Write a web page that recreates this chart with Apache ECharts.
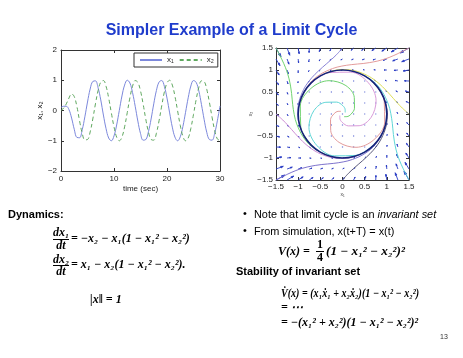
<!DOCTYPE html>
<html><head><meta charset="utf-8">
<script src="https://cdn.jsdelivr.net/npm/echarts@6.0.0/dist/echarts.min.js"></script>
<style>html,body{margin:0;padding:0;background:#fff}#c{width:463px;height:358px}</style>
</head><body><div id="c"></div>
<script>
// ---- time series (left plot) ----
const timeSec = [0,0.5,1,1.5,2,2.5,3,3.5,4,4.5,5,5.5,6,6.5,7,7.5,8,8.5,9,9.5,10,10.5,11,11.5,12,12.5,13,13.5,14,14.5,15,15.5,16,16.5,17,17.5,18,18.5,19,19.5,20,20.5,21,21.5,22,22.5,23,23.5,24,24.5,25,25.5,26,26.5,27,27.5,28,28.5,29,29.5,30];
const x1Vals = [0.10,0.14,0.14,0.03,-0.25,-0.62,-0.89,-0.90,-0.64,-0.21,0.28,0.71,0.96,0.98,0.75,0.35,-0.15,-0.60,-0.91,-1.00,-0.84,-0.48,0.00,0.48,0.84,1.00,0.91,0.59,0.14,-0.35,-0.76,-0.98,-0.96,-0.70,-0.28,0.22,0.66,0.94,0.99,0.80,0.41,-0.08,-0.55,-0.88,-1.00,-0.87,-0.53,-0.06,0.42,0.81,0.99,0.93,0.65,0.20,-0.29,-0.72,-0.96,-0.98,-0.75,-0.34,0.15];
const x2Vals = [0.00,0.08,0.22,0.41,0.55,0.46,0.13,-0.34,-0.75,-0.97,-0.96,-0.71,-0.28,0.22,0.66,0.94,0.99,0.80,0.41,-0.08,-0.54,-0.88,-1.00,-0.88,-0.54,-0.07,0.42,0.80,0.99,0.93,0.65,0.21,-0.29,-0.71,-0.96,-0.98,-0.75,-0.34,0.15,0.61,0.91,1.00,0.84,0.47,-0.01,-0.49,-0.85,-1.00,-0.91,-0.59,-0.13,0.36,0.76,0.98,0.96,0.70,0.27,-0.22,-0.66,-0.94,-0.99];
const seriesNames = ['x₁','x₂'];
const leftXTicks = [0,10,20,30];
const leftYTicks = [-2,-1,0,1,2];
const phaseTicks = [-1.5,-1,-0.5,0,0.5,1,1.5];

// ---- vector field (right plot) ----
const fieldX = [-1.5,-1.25,-1,-0.75,-0.5,-0.25,0,0.25,0.5,0.75,1,1.25,1.5];
const fieldY = [1.5,1.25,1,0.75,0.5,0.25,0,-0.25,-0.5,-0.75,-1,-1.25,-1.5];
const fieldU = [
 [3.75,2.02,0.75,-0.14,-0.75,-1.17,-1.5,-1.83,-2.25,-2.86,-3.75,-5.02,-6.75],
 [2.97,1.41,0.31,-0.41,-0.84,-1.09,-1.25,-1.41,-1.66,-2.09,-2.81,-3.91,-5.47],
 [2.38,0.95,0,-0.58,-0.88,-0.98,-1,-1.02,-1.13,-1.42,-2,-2.95,-4.38],
 [1.97,0.66,-0.19,-0.66,-0.84,-0.84,-0.75,-0.66,-0.66,-0.84,-1.31,-2.16,-3.47],
 [1.75,0.52,-0.25,-0.64,-0.75,-0.67,-0.5,-0.33,-0.25,-0.36,-0.75,-1.52,-2.75],
 [1.72,0.53,-0.19,-0.53,-0.59,-0.47,-0.25,-0.03,0.09,0.03,-0.31,-1.03,-2.22],
 [1.88,0.70,0,-0.33,-0.38,-0.23,0,0.23,0.38,0.33,0,-0.70,-1.88],
 [2.22,1.03,0.31,-0.03,-0.09,0.03,0.25,0.47,0.59,0.53,0.19,-0.53,-1.72],
 [2.75,1.52,0.75,0.36,0.25,0.33,0.5,0.67,0.75,0.64,0.25,-0.52,-1.75],
 [3.47,2.16,1.31,0.84,0.66,0.66,0.75,0.84,0.84,0.66,0.19,-0.66,-1.97],
 [4.38,2.95,2,1.42,1.13,1.02,1,0.98,0.88,0.58,0,-0.95,-2.38],
 [5.47,3.91,2.81,2.09,1.66,1.41,1.25,1.09,0.84,0.41,-0.31,-1.41,-2.97],
 [6.75,5.02,3.75,2.86,2.25,1.83,1.5,1.17,0.75,0.14,-0.75,-2.02,-3.75]
];
const fieldV = [
 [-6.75,-5.47,-4.38,-3.47,-2.75,-2.22,-1.88,-1.72,-1.75,-1.97,-2.38,-2.97,-3.75],
 [-5.02,-3.91,-2.95,-2.16,-1.52,-1.03,-0.70,-0.53,-0.52,-0.66,-0.95,-1.41,-2.02],
 [-3.75,-2.81,-2,-1.31,-0.75,-0.31,0,0.19,0.25,0.19,0,-0.31,-0.75],
 [-2.86,-2.09,-1.42,-0.84,-0.36,0.03,0.33,0.53,0.64,0.66,0.58,0.41,0.14],
 [-2.25,-1.66,-1.13,-0.66,-0.25,0.09,0.38,0.59,0.75,0.84,0.88,0.84,0.75],
 [-1.83,-1.41,-1.02,-0.66,-0.33,-0.03,0.23,0.47,0.67,0.84,0.98,1.09,1.17],
 [-1.5,-1.25,-1,-0.75,-0.5,-0.25,0,0.25,0.5,0.75,1,1.25,1.5],
 [-1.17,-1.09,-0.98,-0.84,-0.67,-0.47,-0.23,0.03,0.33,0.66,1.02,1.41,1.83],
 [-0.75,-0.84,-0.88,-0.84,-0.75,-0.59,-0.38,-0.09,0.25,0.66,1.13,1.66,2.25],
 [-0.14,-0.41,-0.58,-0.66,-0.64,-0.53,-0.33,-0.03,0.36,0.84,1.42,2.09,2.86],
 [0.75,0.31,0,-0.19,-0.25,-0.19,0,0.31,0.75,1.31,2,2.81,3.75],
 [2.02,1.41,0.95,0.66,0.52,0.53,0.70,1.03,1.52,2.16,2.95,3.91,5.02],
 [3.75,2.97,2.38,1.97,1.75,1.72,1.88,2.22,2.75,3.47,4.38,5.47,6.75]
];

// ---- trajectories (right plot) ----
const limitCycle = [[1,0],[0.966,0.259],[0.866,0.5],[0.707,0.707],[0.5,0.866],[0.259,0.966],[0,1],[-0.259,0.966],[-0.5,0.866],[-0.707,0.707],[-0.866,0.5],[-0.966,0.259],[-1,0],[-0.966,-0.259],[-0.866,-0.5],[-0.707,-0.707],[-0.5,-0.866],[-0.259,-0.966],[0,-1],[0.259,-0.966],[0.5,-0.866],[0.707,-0.707],[0.866,-0.5],[0.966,-0.259],[1,0]];
const spiralGreen = [[0.035,-0.061],[0.098,-0.060],[0.187,-0.009],[0.270,0.131],[0.266,0.375],[0.077,0.645],[-0.304,0.757],[-0.709,0.584],[-0.951,0.181],[-0.941,-0.302],[-0.685,-0.722]];
const spiralCyan = [[0.061,0.035],[0.060,0.098],[0.009,0.187],[-0.131,0.270],[-0.375,0.266],[-0.645,0.077],[-0.757,-0.304],[-0.584,-0.709],[-0.181,-0.951],[0.302,-0.941],[0.722,-0.685]];
const spiralRed = [[-0.035,0.061],[-0.098,0.060],[-0.187,0.009],[-0.270,-0.131],[-0.266,-0.375],[-0.077,-0.645],[0.304,-0.757],[0.709,-0.584],[0.951,-0.181],[0.941,0.302],[0.685,0.722]];
const spiralMagenta = [[-0.061,-0.035],[-0.060,-0.098],[-0.009,-0.187],[0.131,-0.270],[0.375,-0.266],[0.645,-0.077],[0.757,0.304],[0.584,0.709],[0.181,0.951],[-0.302,0.941],[-0.722,0.685]];
const outerRed = [[1.5,1.5],[1.232,1.364],[1.051,1.285],[0.911,1.236],[0.798,1.205],[0.616,1.169],[0.466,1.148],[0.210,1.123],[-0.015,1.089],[-0.225,1.033],[-0.507,0.897],[-0.739,0.697],[-0.944,0.351]];
const outerGreen = [[-1.5,1.5],[-1.364,1.232],[-1.285,1.051],[-1.236,0.911],[-1.205,0.798],[-1.169,0.616],[-1.148,0.466],[-1.123,0.210],[-1.089,-0.015],[-1.033,-0.225],[-0.897,-0.507],[-0.697,-0.739],[-0.351,-0.944]];
const outerPurple = [[-1.5,-1.5],[-1.232,-1.364],[-1.051,-1.285],[-0.911,-1.236],[-0.798,-1.205],[-0.616,-1.169],[-0.466,-1.148],[-0.210,-1.123],[0.015,-1.089],[0.225,-1.033],[0.507,-0.897],[0.739,-0.697],[0.944,-0.351]];
const outerCyan = [[1.5,-1.5],[1.364,-1.232],[1.285,-1.051],[1.236,-0.911],[1.205,-0.798],[1.169,-0.616],[1.148,-0.466],[1.123,-0.210],[1.089,0.015],[1.033,0.225],[0.897,0.507],[0.697,0.739],[0.351,0.944]];
const outerYellow = [[1.5,0],[1.348,0.135],[1.237,0.252],[1.146,0.355],[1.064,0.449],[0.904,0.619],[0.740,0.761],[0.562,0.875],[0.273,0.984],[-0.030,1.012],[-0.418,0.914]];
const outerSlate = [[0,1.5],[-0.135,1.348],[-0.252,1.237],[-0.355,1.146],[-0.449,1.064],[-0.619,0.904],[-0.761,0.740],[-0.875,0.562],[-0.984,0.273],[-1.012,-0.030],[-0.914,-0.418]];
const outerMagenta = [[-1.5,0],[-1.348,-0.135],[-1.237,-0.252],[-1.146,-0.355],[-1.064,-0.449],[-0.904,-0.619],[-0.740,-0.761],[-0.562,-0.875],[-0.273,-0.984],[0.030,-1.012],[0.418,-0.914]];
const outerGray = [[0,-1.5],[0.135,-1.348],[0.252,-1.237],[0.355,-1.146],[0.449,-1.064],[0.619,-0.904],[0.761,-0.740],[0.875,-0.562],[0.984,-0.273],[1.012,0.030],[0.914,0.418]];

// ---------- build ----------
const minus = v => (v < 0 ? '\u2212' + Math.abs(v) : String(v));
const sans = '"Liberation Sans", Arial, sans-serif';
const tickFont = {fontSize: 8, color: '#222', fontFamily: sans};

const arrowData = [];
fieldY.forEach((y, i) => fieldX.forEach((x, j) => arrowData.push([x, y, fieldU[i][j], fieldV[i][j]])));
const arrowScale = 0.03;
const arrowColor = '#2a3cc4';

function renderArrow(params, api) {
  const x = api.value(0), y = api.value(1), u = api.value(2), v = api.value(3);
  const p0 = api.coord([x, y]);
  const p1 = api.coord([x + u * arrowScale, y + v * arrowScale]);
  const dx = p1[0] - p0[0], dy = p1[1] - p0[1];
  const L = Math.sqrt(dx * dx + dy * dy);
  if (L < 1.3) {
    return {type: 'rect', shape: {x: p0[0] - 0.6, y: p0[1] - 0.6, width: 1.2, height: 1.2}, style: {fill: arrowColor, opacity: 0.7}};
  }
  const a = 0.33, b = 0.33;
  const h1 = [p1[0] - a * (dx + b * dy), p1[1] - a * (dy - b * dx)];
  const h2 = [p1[0] - a * (dx - b * dy), p1[1] - a * (dy + b * dx)];
  return {type: 'group', children: [
    {type: 'polyline', shape: {points: [p0, p1]}, style: {stroke: arrowColor, lineWidth: 0.9, fill: null}},
    {type: 'polygon', shape: {points: [h1, p1, h2]}, style: {stroke: arrowColor, lineWidth: 0.8, fill: arrowColor}}
  ]};
}

const s1 = timeSec.map((t, i) => [t, x1Vals[i]]);
const s2 = timeSec.map((t, i) => [t, x2Vals[i]]);

function axisBase(extra) {
  return Object.assign({
    type: 'value', splitLine: {show: false},
    axisLine: {show: true, onZero: false, lineStyle: {color: '#333', width: 1}},
    axisTick: {show: true, inside: true, length: 3, lineStyle: {color: '#333'}},
    axisLabel: Object.assign({margin: 4}, tickFont)
  }, extra);
}
function mirror(extra) {
  return Object.assign(axisBase(extra), {axisLabel: {show: false}, name: ''});
}

const traj = (data, color, w, z) => ({
  type: 'line', xAxisIndex: 2, yAxisIndex: 2, data: data, showSymbol: false, symbol: 'none',
  smooth: 0.35, lineStyle: {color: color, width: w || 1}, z: z || 3, silent: true
});

const eqSize = 12;
const eqFont = 'bold ' + eqSize + 'px "Liberation Serif", "DejaVu Serif", serif';
const eqFontI = 'italic bold ' + eqSize + 'px "Liberation Serif", "DejaVu Serif", serif';
function T(text, x, y, font, extra, tr) {
  return Object.assign({type: 'text', x: 0, y: 0, style: Object.assign({text: text, x: x, y: y, font: font, fill: '#000', textAlign: 'left', textVerticalAlign: 'middle'}, extra || {})}, tr || {});
}
function TS(text, x, y, font, sx) {
  // text with horizontal scale about its left anchor
  return {type: 'text', x: x, y: y, scaleX: sx, style: {text: text, x: 0, y: 0, font: font, fill: '#000', textAlign: 'left', textVerticalAlign: 'middle'}};
}
function line(x1, y1, x2, y2) {
  return {type: 'line', shape: {x1: x1, y1: y1, x2: x2, y2: y2}, style: {stroke: '#000', lineWidth: 1}};
}

const chart = echarts.init(document.getElementById('c'), null, {renderer: 'canvas'});
chart.setOption({
  animation: false,
  backgroundColor: '#fff',
  grid: [
    {left: 61, top: 50, width: 159, height: 121, show: false},
    {left: 276, top: 48, width: 133, height: 132, show: false}
  ],
  legend: {
    data: seriesNames, left: 134, top: 53, itemWidth: 22, itemHeight: 10, itemGap: 5,
    padding: [3, 4, 3, 5], borderColor: '#333', borderWidth: 1, backgroundColor: '#fff',
    itemStyle: {opacity: 0, borderWidth: 0},
    textStyle: {fontSize: 8, color: '#222', fontFamily: sans}
  },
  xAxis: [
    axisBase({gridIndex: 0, min: 0, max: 30, interval: 10, name: 'time (sec)', nameLocation: 'middle', nameGap: 14,
      nameTextStyle: {fontSize: 8, color: '#222', fontFamily: sans}, axisLabel: Object.assign({margin: 4, formatter: minus}, tickFont)}),
    mirror({gridIndex: 0, min: 0, max: 30, interval: 10, position: 'top'}),
    axisBase({gridIndex: 1, min: -1.5, max: 1.5, interval: 0.5, name: 'x₁', nameLocation: 'middle', nameGap: 11,
      nameTextStyle: {fontSize: 5, color: '#444', fontFamily: sans}, axisLabel: Object.assign({margin: 3, formatter: minus}, tickFont)}),
    mirror({gridIndex: 1, min: -1.5, max: 1.5, interval: 0.5, position: 'top'})
  ],
  yAxis: [
    axisBase({gridIndex: 0, min: -2, max: 2, interval: 1, name: 'x₁, x₂', nameLocation: 'middle', nameGap: 16,
      nameTextStyle: {fontSize: 8, color: '#222', fontFamily: sans}, axisLabel: Object.assign({margin: 4, formatter: minus}, tickFont)}),
    mirror({gridIndex: 0, min: -2, max: 2, interval: 1, position: 'right'}),
    axisBase({gridIndex: 1, min: -1.5, max: 1.5, interval: 0.5, name: 'x₂', nameLocation: 'middle', nameGap: 19,
      nameTextStyle: {fontSize: 5, color: '#444', fontFamily: sans}, axisLabel: Object.assign({margin: 3, formatter: minus}, tickFont)}),
    mirror({gridIndex: 1, min: -1.5, max: 1.5, interval: 0.5, position: 'right'})
  ],
  series: [
    {name: seriesNames[0], type: 'line', xAxisIndex: 0, yAxisIndex: 0, data: s1, showSymbol: false, symbol: 'none', smooth: 0.4,
      lineStyle: {color: '#7c88dc', width: 1}, itemStyle: {color: '#7c88dc'}},
    {name: seriesNames[1], type: 'line', xAxisIndex: 0, yAxisIndex: 0, data: s2, showSymbol: false, symbol: 'none', smooth: 0.4,
      lineStyle: {color: '#5fa85f', width: 1, type: [4, 3]}, itemStyle: {color: '#5fa85f'}},
    {type: 'custom', xAxisIndex: 2, yAxisIndex: 2, data: arrowData, renderItem: renderArrow, encode: {x: 0, y: 1}, z: 2, silent: true, clip: false},
    traj(outerRed, '#e39b9b'), traj(outerGreen, '#6fd26f'), traj(outerPurple, '#7d72cc'), traj(outerCyan, '#5fd6d6'),
    traj(outerYellow, '#dede5a'), traj(outerSlate, '#8b84d6'), traj(outerMagenta, '#cf8fd6'), traj(outerGray, '#5a5a7a'),
    traj(spiralGreen, '#6fd26f'), traj(spiralCyan, '#5fd6d6'), traj(spiralRed, '#e39b9b'), traj(spiralMagenta, '#d99ad9'),
    traj(limitCycle, '#16237a', 1.6, 5)
  ],
  graphic: [
    T('Simpler Example of a Limit Cycle', 231.5, 31, 'bold 16px ' + sans, {fill: '#1f3ccc', textAlign: 'center'}),
    T('Dynamics:', 8, 215, 'bold 11px ' + sans),
    T('dx₁', 61, 233, eqFontI, {textAlign: 'center'}), line(53, 239.5, 69, 239.5), T('dt', 61, 245.5, eqFontI, {textAlign: 'center'}),
    TS('= −x₂ − x₁(1 − x₁² − x₂²)', 71, 239, eqFontI, 1.0),
    T('dx₂', 61, 259.5, eqFontI, {textAlign: 'center'}), line(53, 265.5, 69, 265.5), T('dt', 61, 271.5, eqFontI, {textAlign: 'center'}),
    TS('= x₁ − x₂(1 − x₁² − x₂²).', 71, 265, eqFontI, 1.0),
    T('|x‖ = 1', 90, 300, eqFontI),
    T('•', 243, 214, '11px ' + sans),
    {type: 'text', style: {text: '{n|Note that limit cycle is an }{i|invariant set}', x: 254, y: 215, textVerticalAlign: 'middle', textAlign: 'left',
      rich: {n: {fontSize: 10.9, fontFamily: sans, fill: '#000'}, i: {fontSize: 10.9, fontFamily: sans, fontStyle: 'italic', fill: '#000'}}}},
    T('•', 243, 231, '11px ' + sans),
    T('From simulation, x(t+T) = x(t)', 254, 232, '10.9px ' + sans),
    T('V(x) =', 278, 252, eqFontI),
    T('1', 320, 245, eqFont, {textAlign: 'center'}), line(316, 251.5, 324, 251.5), T('4', 320, 258, eqFont, {textAlign: 'center'}),
    TS('(1 − x₁² − x₂²)²', 326, 252, eqFontI, 1.1),
    T('Stability of invariant set', 236, 272, 'bold 11px ' + sans),
    TS('V̇(x) = (x₁ẋ₁ + x₂ẋ₂)(1 − x₁² − x₂²)', 281, 294, eqFontI, 0.84),
    T('= ⋯', 281, 308, eqFontI),
    T('= −(x₁² + x₂²)(1 − x₁² − x₂²)²', 281, 323, eqFontI),
    T('13', 440, 337, '7px ' + sans, {fill: '#333'})
  ]
});
</script></body></html>
